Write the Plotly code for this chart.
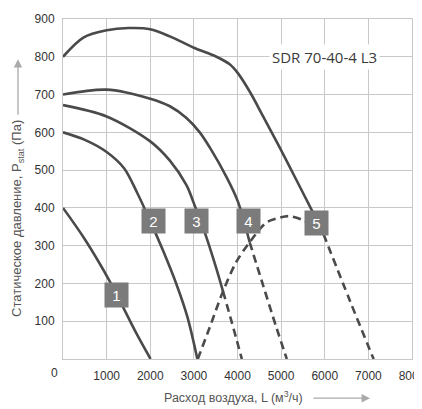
import plotly.graph_objects as go

# ---- data ----
c1_x = [0, 500, 1075, 1686, 2007]
c1_y = [400, 317, 205, 67, 0]

c2_x = [0, 500, 1000, 1400, 1700, 2000, 2300, 2600, 2850, 3080]
c2_y = [600, 580, 548, 505, 440, 365, 285, 198, 112, 0]

c3_x = [0, 1000, 2000, 2450, 2830, 3000, 3249, 3500, 3668, 3860, 4100]
c3_y = [672, 642, 576, 525, 460, 412, 335, 245, 179, 101, 0]
c3_split = 8

c4_x = [0, 1000, 2000, 2450, 2830, 3135, 3364, 3746, 4012, 4279, 4584, 4890, 5130]
c4_y = [700, 713, 689, 669, 638, 600, 560, 482, 416, 309, 196, 84, 0]
c4_split = 9

c5_x = [0, 467, 1000, 1500, 2000, 2450, 3000, 3517, 3822, 4012, 4279, 4584, 4966, 5309, 5728, 5970, 6574, 7120]
c5_y = [800, 851, 870, 876, 873, 854, 824, 800, 780, 756, 708, 643, 560, 483, 388, 331, 155, 0]
c5_split = 15

sys_x = [3090, 3364, 3668, 3973, 4279, 4661, 4966, 5195, 5510, 5820]
sys_y = [0, 84, 179, 257, 309, 361, 374, 378, 367, 345]

labels = ["1", "2", "3", "4", "5"]
label_x = [1230, 2065, 3060, 4250, 5820]
label_y = [169, 364, 364, 364, 361]

x_ticks = [1000, 2000, 3000, 4000, 5000, 6000, 7000, 8000]
y_ticks = [100, 200, 300, 400, 500, 600, 700, 800, 900]

model = "SDR 70-40-4 L3"

LINE = "#4a4a4a"
W = 2.6
DASH = "8px,5px"

fig = go.Figure()

def add(x, y, dash="solid"):
    fig.add_trace(go.Scatter(x=x, y=y, mode="lines",
                             line=dict(color=LINE, width=W, dash=dash, shape="spline", smoothing=0.9),
                             hoverinfo="skip", showlegend=False))

add(c1_x, c1_y)
add(c2_x, c2_y)
add(c3_x[:c3_split + 1], c3_y[:c3_split + 1])
add(c3_x[c3_split:], c3_y[c3_split:], DASH)
add(c4_x[:c4_split + 1], c4_y[:c4_split + 1])
add(c4_x[c4_split:], c4_y[c4_split:], DASH)
add(c5_x[:c5_split + 1], c5_y[:c5_split + 1])
add(c5_x[c5_split:], c5_y[c5_split:], DASH)
add(sys_x, sys_y, DASH)

# The page body keeps its default 8px margin, so the figure is laid out
# in page pixels minus that offset.
OFF = 8
WIDTH, HEIGHT = 422, 409
PLOT_L, PLOT_R, PLOT_T, PLOT_B = 63, 412, 12, 359   # target page pixels
PL = PLOT_L - OFF
PT = PLOT_T - OFF
PR = WIDTH - (PLOT_R - OFF)
PB = HEIGHT - (PLOT_B - OFF)
pw, ph = WIDTH - PL - PR, HEIGHT - PT - PB

def px2paper(px, py):
    return (px - OFF - PL) / pw, 1 - (py - OFF - PT) / ph

annotations = []
for t, lx, ly in zip(labels, label_x, label_y):
    annotations.append(dict(x=lx, y=ly, xref="x", yref="y", text=t, showarrow=False,
                            font=dict(family="Liberation Sans, Arial", size=15, color="white"),
                            bgcolor="#7b7b7b", width=23, height=24, borderpad=0))

annotations.append(dict(x=6000, y=800, xref="x", yref="y", text=model, showarrow=False,
                        font=dict(family="Open Sans, sans-serif", size=15, color="#3a3a3a"),
                        bgcolor="white", borderpad=2))

# "0" tick label sits left of the origin
annotations.append(dict(x=0, y=0, xref="x", yref="y", text="0", showarrow=False,
                        xshift=-9, yshift=-14, font=dict(family="Liberation Sans, Arial", size=12, color="#333")))

# axis titles
tx, ty = px2paper(162, 398)
annotations.append(dict(x=tx, y=ty, xref="paper", yref="paper", text="Расход воздуха, L (м<sup>3</sup>/ч)",
                        showarrow=False, xanchor="left", yanchor="middle",
                        font=dict(family="Liberation Sans, Arial", size=12.5, color="#555")))
tx, ty = px2paper(18, 216)
annotations.append(dict(x=tx, y=ty, xref="paper", yref="paper", text="Статическое давление, P<sub>stat</sub> (Па)",
                        showarrow=False, textangle=-90, xanchor="center", yanchor="middle",
                        font=dict(family="Liberation Sans, Arial", size=13, color="#555")))

# arrows next to axis titles
ex, ey = px2paper(370, 399)
annotations.append(dict(x=ex, y=ey, xref="paper", yref="paper", axref="pixel", ayref="pixel",
                        ax=-(370 - 312), ay=0,
                        text="", showarrow=True, arrowhead=2, arrowsize=1.3, arrowwidth=1.3, arrowcolor="#aaaaaa"))
ex, ey = px2paper(18, 53)
annotations.append(dict(x=ex, y=ey, xref="paper", yref="paper", axref="pixel", ayref="pixel",
                        ax=0, ay=(110 - 53),
                        text="", showarrow=True, arrowhead=2, arrowsize=1.3, arrowwidth=1.3, arrowcolor="#aaaaaa"))

GRID = "#c8c8c8"
fig.update_layout(
    width=WIDTH, height=HEIGHT, autosize=False,
    margin=dict(l=PL, r=PR, t=PT, b=PB),
    paper_bgcolor="white", plot_bgcolor="white",
    font=dict(family="Liberation Sans, Arial", size=12, color="#333"),
    xaxis=dict(range=[0, 8000], tickvals=x_ticks, ticktext=[str(v) for v in x_ticks],
               showgrid=True, gridcolor=GRID, gridwidth=1, zeroline=False,
               showline=True, linecolor=GRID, linewidth=1, mirror=True, ticks="", ticklabelstandoff=6),
    yaxis=dict(range=[0, 900], tickvals=y_ticks, ticktext=[str(v) for v in y_ticks],
               showgrid=True, gridcolor=GRID, gridwidth=1, zeroline=False, ticklabeloverflow="allow",
               showline=True, linecolor=GRID, linewidth=1, mirror=True, ticks="", ticklabelstandoff=5),
    annotations=annotations,
)

fig.write_html("out.html", config={"displayModeBar": False, "responsive": False})
